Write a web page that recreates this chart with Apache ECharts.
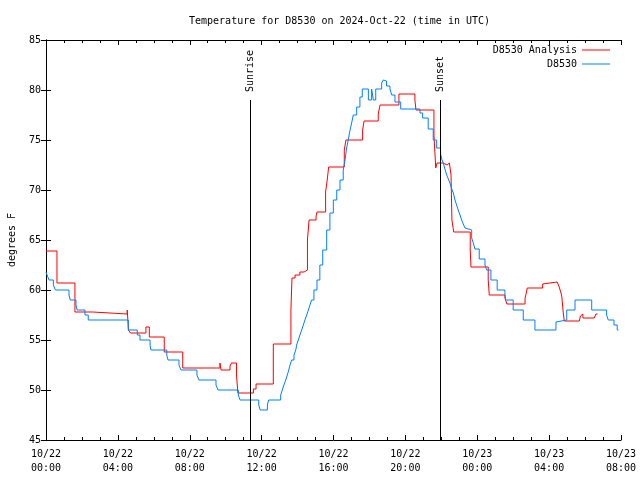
<!DOCTYPE html>
<html><head><meta charset="utf-8">
<script src="https://cdn.jsdelivr.net/npm/echarts@6/dist/echarts.min.js"></script>
<style>html,body{margin:0;padding:0;background:#fff}#c{width:640px;height:480px}</style>
</head><body><div id="c"></div>
<script>
// hours since 2024-10-22 00:00 UTC
const analysisT = [0.00,0.61,1.61,2.60,4.52,4.59,4.70,5.56,5.75,6.58,7.61,9.68,9.74,10.24,10.32,10.60,10.68,11.54,11.69,12.65,13.63,13.69,13.86,14.13,14.36,14.55,14.64,15.03,15.08,15.56,15.65,15.73,16.60,16.69,17.62,17.70,18.49,18.59,19.64,20.53,20.59,21.59,21.69,21.76,22.09,22.32,22.45,22.54,22.59,22.69,23.61,23.65,24.61,24.67,25.54,25.65,26.66,26.73,26.78,27.64,27.71,28.45,28.56,28.66,28.71,28.77,28.84,29.68,29.74,29.79,29.88,30.51,30.61,30.69];
const analysisV = [63.9,60.7,57.8,57.6,58.0,56.0,55.7,56.3,55.3,53.8,52.2,52.7,52.0,52.4,52.7,51.5,49.7,50.1,50.6,54.6,58.0,61.2,61.5,61.8,62.0,65.0,67.0,67.4,67.8,69.8,71.0,72.3,74.0,75.0,76.0,76.9,77.6,78.5,79.6,79.0,78.0,75.5,72.2,72.7,72.5,72.7,72.9,71.5,67.0,65.8,64.0,62.3,61.0,59.5,59.2,58.6,59.2,59.7,60.2,60.6,60.8,60.7,60.3,59.7,59.3,58.0,56.9,57.1,57.4,57.6,57.2,57.4,57.6,57.6];
const obsT = [0.00,0.08,0.17,0.41,0.52,1.28,1.35,1.67,1.73,2.17,2.35,4.58,5.08,5.23,5.79,5.84,6.72,6.79,7.40,7.51,8.40,8.51,9.46,9.57,10.70,10.80,11.84,11.92,12.32,12.39,13.06,13.15,13.24,13.34,13.43,13.51,13.58,13.67,13.80,13.90,13.95,14.04,14.13,14.23,14.32,14.41,14.51,14.60,14.69,14.78,14.91,15.08,15.24,15.40,15.62,15.80,15.99,16.18,16.36,16.54,16.64,16.73,16.82,16.92,17.01,17.10,17.29,17.47,17.60,17.94,18.12,18.22,18.35,18.68,18.77,18.86,18.95,19.14,19.24,19.42,19.74,20.81,20.96,21.27,21.55,21.74,21.96,22.02,22.11,22.20,22.30,22.39,22.48,22.58,22.67,22.76,22.85,22.94,23.04,23.13,23.22,23.32,23.43,23.69,23.78,23.87,24.11,24.43,24.52,24.76,25.11,25.54,25.58,26.00,26.56,27.21,28.38,28.45,28.98,29.44,30.37,31.20,31.29,31.61,31.79,31.86];
const obsV = [61.8,61.4,61.0,60.5,60.0,59.5,59.0,58.5,58.0,57.5,57.0,56.0,55.5,55.0,54.5,54.0,53.5,53.0,52.5,52.0,51.5,51.0,50.5,50.0,49.5,49.0,48.5,48.0,48.5,49.0,49.5,50.0,50.5,51.0,51.5,52.0,52.5,53.0,53.5,54.0,54.5,55.0,55.5,56.0,56.5,57.0,57.5,58.0,58.5,59.0,60.0,61.0,62.5,64.0,66.0,67.7,69.0,70.0,71.0,72.0,73.0,74.2,75.0,76.0,76.7,77.5,78.3,79.3,80.1,79.0,80.1,79.0,80.1,80.7,81.0,80.9,80.4,80.1,79.5,78.8,78.1,77.7,77.2,76.1,75.0,74.2,73.6,73.1,72.7,72.1,71.5,71.1,70.7,70.1,69.7,69.0,68.5,68.0,67.5,67.0,66.6,66.2,66.0,65.2,64.7,64.1,63.1,62.5,62.0,61.0,60.0,59.5,59.0,58.0,57.0,56.0,56.8,57.0,58.0,59.0,58.0,57.5,57.0,56.5,56.0,56.0];
const sunriseHour = 11.35, sunsetHour = 21.93, markTop = 79;
const xMin = 0, xMax = 32, xStep = 4;
const yMin = 45, yMax = 85, yStep = 5;
const dayLabels = ['10/22','10/23'];
const seriesNames = ['D8530 Analysis','D8530'];
const titleText = 'Temperature for D8530 on 2024-Oct-22 (time in UTC)';

const F = 'DejaVu Sans Mono';
const zip = (a,b) => a.map((t,i)=>[t,b[i]]);
const fmtX = v => {
  const d = Math.floor(v/24), h = Math.round(v%24);
  return dayLabels[d] + '\n' + String(h).padStart(2,'0') + ':00';
};
const baseX = {
  type:'value', min:xMin, max:xMax, interval:xStep,
  axisLine:{show:true,lineStyle:{color:'#000',width:1}},
  axisTick:{show:true,inside:true,length:5,lineStyle:{color:'#000'}},
  minorTick:{show:true,splitNumber:4,length:3,lineStyle:{color:'#000'}},
  splitLine:{show:false}, minorSplitLine:{show:false}
};
const baseY = {
  type:'value', min:yMin, max:yMax, interval:yStep,
  axisLine:{show:true,lineStyle:{color:'#000',width:1}},
  axisTick:{show:true,inside:true,length:5,lineStyle:{color:'#000'}},
  splitLine:{show:false}
};
const chart = echarts.init(document.getElementById('c'));
chart.setOption({
  animation:false,
  backgroundColor:'#fff',
  textStyle:{fontFamily:F},
  title:{text:titleText,left:184,top:11,textStyle:{fontFamily:F,fontSize:10,fontWeight:'normal',color:'#000'}},
  grid:{left:46,right:19,top:40,bottom:40,outerBoundsMode:'none',containLabel:false},
  legend:{data:seriesNames,orient:'vertical',right:25,top:39,align:'right',icon:'rect',itemWidth:28,itemHeight:1,itemGap:2,
    textStyle:{fontFamily:F,fontSize:10,color:'#000',lineHeight:12}},
  xAxis:[
    Object.assign({},baseX,{position:'bottom',axisLabel:{formatter:fmtX,color:'#000',fontFamily:F,fontSize:10,lineHeight:14,margin:7}}),
    Object.assign({},baseX,{position:'top',axisLabel:{show:false}})
  ],
  yAxis:[
    Object.assign({},baseY,{position:'left',name:'degrees F',nameLocation:'middle',nameRotate:90,nameGap:29,
      nameTextStyle:{fontFamily:F,fontSize:10,color:'#000'},
      axisLabel:{color:'#000',fontFamily:F,fontSize:10,margin:5}}),
    Object.assign({},baseY,{position:'right',axisLabel:{show:false}})
  ],
  series:[
    {name:seriesNames[0],type:'line',step:'end',symbol:'none',data:zip(analysisT,analysisV),
      lineStyle:{color:'#ff0000',width:1},itemStyle:{color:'#ff0000'},z:2},
    {name:seriesNames[1],type:'line',step:'end',symbol:'none',data:zip(obsT,obsV),
      lineStyle:{color:'#0080ff',width:1},itemStyle:{color:'#0080ff'},z:3},
    {name:'sun',type:'line',data:[],z:5,
      markLine:{silent:true,symbol:'none',label:{show:false},lineStyle:{color:'#000',width:1,type:'solid'},
        data:[
          [{coord:[sunriseHour,markTop]},{coord:[sunriseHour,yMin]}],
          [{coord:[sunsetHour,markTop]},{coord:[sunsetHour,yMin]}]
        ]}}
  ]
});
const sunLabels = [['Sunrise',sunriseHour],['Sunset',sunsetHour]];
chart.setOption({graphic: sunLabels.map(([txt,h]) => {
  const p = chart.convertToPixel({xAxisIndex:0,yAxisIndex:0},[h,markTop]);
  return {type:'text',x:Math.round(p[0]),y:p[1]-8,rotation:Math.PI/2,
    style:{text:txt,fontFamily:F,fontSize:10,fill:'#000',textAlign:'left',textVerticalAlign:'middle'}};
})});
</script></body></html>
